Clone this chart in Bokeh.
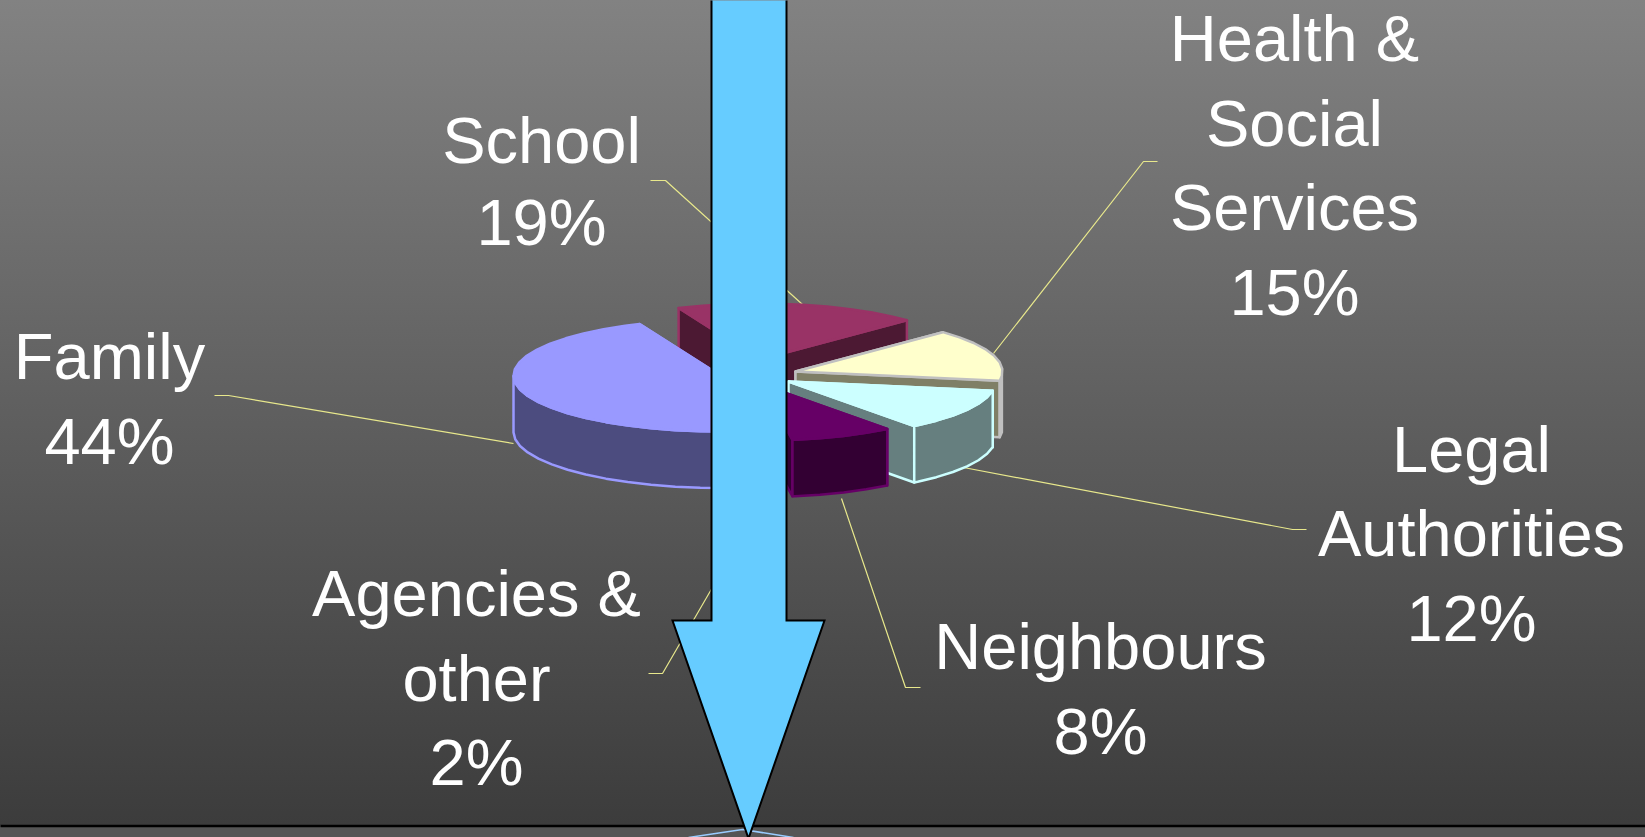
import numpy as np
from bokeh.core.properties import value
from bokeh.embed import file_html
from bokeh.models import Range1d
from bokeh.plotting import figure
from bokeh.resources import INLINE

# Shares of the pie, clockwise from the rear
categories = ["School", "Health & Social Services", "Legal Authorities",
              "Neighbours", "Agencies & other", "Family"]
shares = [19, 15, 12, 8, 2, 44]

# Drawing style and exploded position of each wedge
top_colors = ["#993366", "#FFFFCC", "#CCFFFF", "#660066", "#9999FF", "#9999FF"]
side_colors = ["#4C1933", "#7F7F66", "#667F7F", "#330033", "#4C4C7F", "#4C4C7F"]
edge_colors = ["#993366", "#C0C0C0", "#CCFFFF", "#660066", "#9999FF", "#9999FF"]
apex_x = [759, 795, 788, 761, 735, 720]
apex_y = [359, 371, 381, 384, 392, 375]
paint_order = [0, 1, 2, 3, 4, 5]

START_ANGLE = -113.0
RADIUS_X = 207.0
RADIUS_Y = 56.0
DEPTH = 56.5

# Label lines: wrapped category text, then the percentage
label_lines = [["School"], ["Health &", "Social", "Services"], ["Legal", "Authorities"],
               ["Neighbours"], ["Agencies &", "other"], ["Family"]]
label_x = [541, 1294, 1471, 1100, 476, 109]
label_y = [[140, 222], [38, 123, 207, 292], [449, 533, 618], [646, 731],
           [593, 678, 762], [356, 441]]

leader_x = [[650, 665, 802], [1157, 1143, 993], [1306, 1292, 963],
            [920, 905, 841], [648, 662, 745], [214, 228, 513]]
leader_y = [[180, 180, 304], [161, 161, 353], [529, 529, 467],
            [687, 687, 498], [673, 673, 530], [395, 395, 443]]

W, H = 1645, 837
p = figure(width=W, height=H, output_backend="svg", toolbar_location=None,
           x_range=Range1d(0, W), y_range=Range1d(H, 0), min_border=0)
p.axis.visible = False
p.grid.visible = False
p.outline_line_color = None
p.background_fill_color = None
p.border_fill_color = None

# Page shading sits behind the transparent plot area, with a lighter strip at the foot
p.styles = {"background": "linear-gradient(to bottom, rgb(130,130,130) 0px, "
                          "rgb(60,60,60) 825px, #555555 825px, #555555 837px)"}

p.line([-6, W + 6], [825.5, 825.5], line_color="#000000", line_width=2.5)
p.line([688, 742, 793], [837, 829, 837], line_color="#99CCFF", line_width=1.5)


def rim(angles, ax, ay, drop=0.0):
    rad = np.radians(angles)
    return ax + RADIUS_X * np.cos(rad), ay + RADIUS_Y * np.sin(rad) + drop


# Leader lines run under the pie wedges
for xs, ys in zip(leader_x, leader_y):
    p.line(xs, ys, line_color="#E8E88C", line_width=1.2)

fractions = np.array(shares) / sum(shares)
starts = START_ANGLE + 360 * np.concatenate([[0], np.cumsum(fractions)[:-1]])
sweeps = 360 * fractions

for i in paint_order:
    a0, a1 = starts[i], starts[i] + sweeps[i]
    ax, ay = apex_x[i], apex_y[i]
    angles = np.append(np.arange(a0, a1, 7.0), a1)
    top_x, top_y = rim(angles, ax, ay)
    style = dict(fill_color=side_colors[i], line_color=edge_colors[i],
                 line_width=2.5, line_join="round")

    # Flat wall on both cut faces of the wedge
    for k in (0, -1):
        p.patch([ax, top_x[k], top_x[k], ax],
                [ay, top_y[k], top_y[k] + DEPTH, ay + DEPTH], **style)

    # Curved wall: only the part of the rim that faces the viewer
    front = angles[np.sin(np.radians(angles)) >= -0.001]
    if front.size > 1:
        fx, fy = rim(front, ax, ay)
        p.patch(np.concatenate([fx, fx[::-1]]),
                np.concatenate([fy, fy[::-1] + DEPTH]), **style)

    p.patch(np.concatenate([[ax], top_x]), np.concatenate([[ay], top_y]),
            fill_color=top_colors[i], line_color=edge_colors[i],
            line_width=2.5, line_join="round")

# Arrow running down the page
shaft_l, shaft_r, head_l, head_r, tip_x, shoulder, tip_y = 711, 786, 672, 824, 748, 620, 838
p.patch([shaft_l, shaft_r, shaft_r, head_r, tip_x, head_l, shaft_l],
        [-5, -5, shoulder, shoulder, tip_y, shoulder, shoulder],
        fill_color="#66CCFF", line_color="#000000", line_width=2, line_join="miter")

# Category and percentage labels
for lines, share, x, ys in zip(label_lines, shares, label_x, label_y):
    rows = lines + [f"{share}%"]
    p.text(x=[x] * len(rows), y=ys, text=rows, text_color="#FFFFFF",
           text_font=value("Liberation Sans"), text_font_size="65px",
           text_align="center", text_baseline="middle")

open("out.html", "w").write(file_html(p, INLINE))
